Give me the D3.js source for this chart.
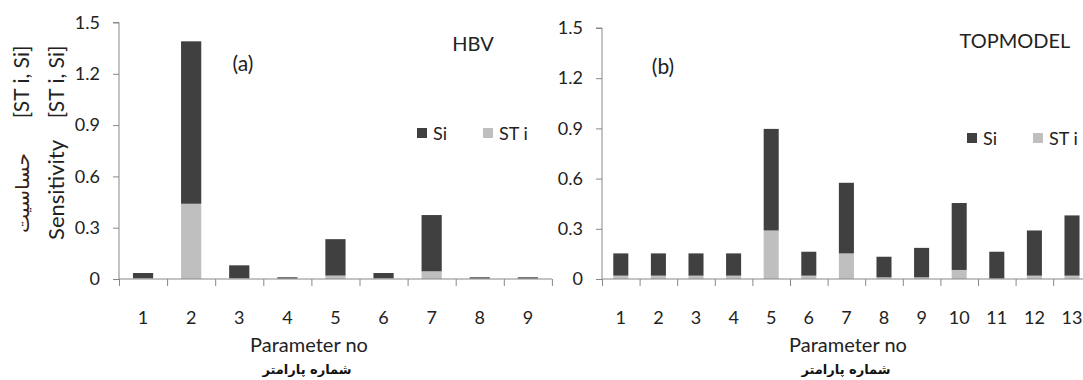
<!DOCTYPE html>
<html><head><meta charset="utf-8">
<script src="https://cdn.jsdelivr.net/npm/d3@7"></script>
<style>
body{margin:0;background:#fff;}
svg{display:block;font-family:Lato,"Open Sans",sans-serif;}
</style></head>
<body><svg id="c" width="1083" height="380"></svg>
<script>
// ---- data ----
const yTicks = [0, 0.3, 0.6, 0.9, 1.2, 1.5];
const hbvParams = ["1","2","3","4","5","6","7","8","9"];
const hbvSTi = [0.005, 0.44, 0.005, 0.003, 0.02, 0.005, 0.045, 0.003, 0.003];
const hbvSi  = [0.030, 0.95, 0.075, 0.007, 0.213, 0.030, 0.329, 0.007, 0.007];
const topParams = ["1","2","3","4","5","6","7","8","9","10","11","12","13"];
const topSTi = [0.02, 0.02, 0.02, 0.02, 0.29, 0.02, 0.153, 0.01, 0.01, 0.054, 0.003, 0.02, 0.02];
const topSi  = [0.133, 0.133, 0.133, 0.133, 0.607, 0.143, 0.422, 0.123, 0.176, 0.40, 0.16, 0.27, 0.36];
const seriesNames = ["Si", "ST i"];

const DARK = "#404040", LIGHT = "#bfbfbf", AXIS = "#888", TXT = "#222";
const svg = d3.select("#c");

function panel(cfg) {
  const g = svg.append("g");
  const y = d3.scaleLinear().domain([0, 1.5]).range([cfg.y0, cfg.y1]);
  const n = cfg.params.length;
  const xLin = d3.scaleLinear().domain([0, n]).range([cfg.x0, cfg.x0 + n * cfg.bw]);
  const x = d3.scaleBand().domain(cfg.params).range([cfg.x0, cfg.x0 + n * cfg.bw])
      .paddingInner(cfg.pad).paddingOuter(cfg.pad / 2);

  const rows = cfg.params.map((p, i) => ({p, STi: cfg.sti[i], Si: cfg.si[i]}));
  const stack = d3.stack().keys(["STi", "Si"])(rows);
  const colors = {STi: LIGHT, Si: DARK};
  g.selectAll("g.s").data(stack).join("g").attr("fill", d => colors[d.key])
    .selectAll("rect").data(d => d).join("rect")
    .attr("x", d => x(d.data.p)).attr("width", x.bandwidth())
    .attr("y", d => y(d[1])).attr("height", d => y(d[0]) - y(d[1]));

  // y axis
  const ya = g.append("g").attr("transform", `translate(${cfg.x0},0)`)
    .call(d3.axisLeft(y).tickValues(yTicks).tickSize(6).tickPadding(13).tickFormat(d3.format("")));
  ya.select(".domain").attr("stroke", AXIS).attr("d", `M-6,${cfg.y1}H0V${cfg.y0}`);
  ya.selectAll(".tick line").attr("stroke", AXIS);
  ya.selectAll("text").attr("fill", TXT).style("font-size", "18px").style("font-family", "Lato");

  // x axis line with boundary ticks
  const xa = g.append("g").attr("transform", `translate(0,${cfg.y0})`)
    .call(d3.axisBottom(xLin).tickValues(d3.range(0, n + 1)).tickSize(7).tickFormat(""));
  xa.select(".domain").attr("stroke", AXIS).attr("d", `M${cfg.x0},0H${cfg.x0 + n * cfg.bw}`);
  xa.selectAll(".tick line").attr("stroke", AXIS);

  const xl = g.append("g").attr("transform", `translate(0,${cfg.y0})`)
    .call(d3.axisBottom(x).tickSize(0).tickPadding(32));
  xl.select(".domain").remove();
  xl.selectAll("text").attr("fill", TXT).style("font-size", "18px").style("font-family", "Lato");

  // labels
  g.append("text").attr("x", cfg.lblX).attr("y", cfg.lblY).attr("text-anchor", "middle")
    .attr("fill", TXT).style("font-size", "21px").text(cfg.lbl);
  g.append("text").attr("x", cfg.titleX).attr("y", cfg.titleY).attr("text-anchor", "middle")
    .attr("fill", TXT).style("font-size", "20px").text(cfg.title);
  g.append("text").attr("x", cfg.xtX).attr("y", 352).attr("text-anchor", "middle")
    .attr("fill", TXT).style("font-size", "20px").text("Parameter no");
  g.append("text").attr("x", cfg.xtX - 2).attr("y", 374).attr("text-anchor", "middle")
    .attr("fill", "#111").style("font-size", "13px").style("font-weight", "bold")
    .style("font-family", "'DejaVu Sans'").attr("direction", "rtl").text("شماره پارامتر");

  // legend
  const lg = g.append("g").attr("transform", `translate(${cfg.legX},${cfg.legY})`);
  const lx = [0, 66];
  seriesNames.forEach((s, i) => {
    lg.append("rect").attr("x", lx[i]).attr("y", -10).attr("width", 10).attr("height", 10)
      .attr("fill", i === 0 ? DARK : LIGHT);
    lg.append("text").attr("x", lx[i] + 16).attr("y", 2).attr("fill", TXT)
      .style("font-size", "18px").text(s);
  });
}

panel({params: hbvParams, sti: hbvSTi, si: hbvSi, x0: 119, bw: 48.1, pad: 0.58, y0: 279, y1: 22.5,
  lbl: "(a)", lblX: 243, lblY: 71, title: "HBV", titleX: 473, titleY: 51, xtX: 309, legX: 417, legY: 138});
panel({params: topParams, sti: topSTi, si: topSi, x0: 602, bw: 37.6, pad: 0.6, y0: 279, y1: 28,
  lbl: "(b)", lblX: 663, lblY: 74, title: "TOPMODEL", titleX: 1015, titleY: 48, xtX: 848, legX: 967, legY: 143});

// y-axis titles (left panel)
function vtext(x, y, t, opts) {
  const e = svg.append("text").attr("transform", `translate(${x},${y}) rotate(-90)`)
    .attr("text-anchor", "middle").attr("fill", opts.fill || TXT)
    .style("font-size", opts.size || "21px").text(t);
  if (opts.family) e.style("font-family", opts.family);
  if (opts.weight) e.style("font-weight", opts.weight);
  if (opts.rtl) e.attr("direction", "rtl");
  if (opts.len) e.attr("textLength", opts.len).attr("lengthAdjust", "spacingAndGlyphs");
}
vtext(64, 190, "Sensitivity", {size: "22px"});
vtext(64, 82, "[ST i, Si]", {});
vtext(29, 193, "حساسیت", {family: "'DejaVu Sans'", size: "19px", fill: "#3a2010", len: 80});
vtext(29, 82, "[ST i, Si]", {});
</script></body></html>
